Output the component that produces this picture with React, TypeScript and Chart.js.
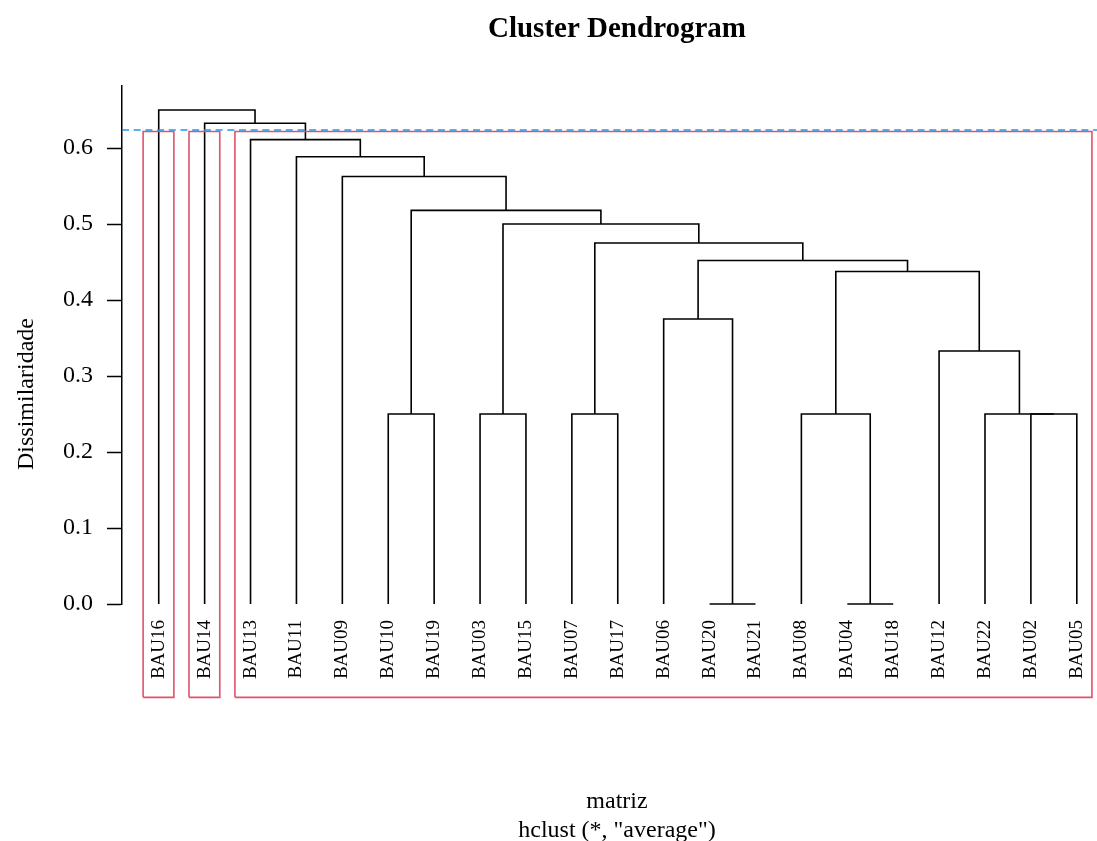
import React, { useEffect, useRef } from "react";
import { Chart, registerables } from "chart.js";

Chart.register(...registerables);

// Leaf order along the x axis
const leafLabels = [
  "BAU16", "BAU14", "BAU13", "BAU11", "BAU09", "BAU10", "BAU19", "BAU03", "BAU15", "BAU07",
  "BAU17", "BAU06", "BAU20", "BAU21", "BAU08", "BAU04", "BAU18", "BAU12", "BAU22", "BAU02", "BAU05",
];

// hclust-style merge table: negative = leaf (1-based position), positive = earlier merge step (1-based)
const mergeLeft = [-13, -16, -6, -8, -10, -15, -20, -19, -18, -12, 6, 10, 5, 4, 3, -5, -4, -3, -2, -1];
const mergeRight = [-14, -17, -7, -9, -11, 2, -21, 7, 8, 1, 9, 11, 12, 13, 14, 15, 16, 17, 18, 19];
const mergeHeights = [
  0, 0, 0.25, 0.25, 0.25, 0.25, 0.25, 0.25, 0.333, 0.375,
  0.4375, 0.452, 0.475, 0.5, 0.518, 0.5625, 0.5886, 0.611, 0.6325, 0.65,
];

// Clusters cut (k = 3): first and last leaf position of each group
const clusterFirst = [1, 2, 3];
const clusterLast = [1, 2, 21];
const rectTop = 0.6218;
const rectBottom = -0.1228;
const cutHeight = 0.6237;

const yTicks = [0, 0.1, 0.2, 0.3, 0.4, 0.5, 0.6];

const X_MIN = 0.2;
const X_MAX = 21.44;
const Y_MAX = 0.6816;

const SERIF = "'Liberation Serif', 'Times New Roman', serif";

function buildDatasets() {
  const pos: number[] = [];
  const hgt: number[] = [];
  const getX = (c: number) => (c < 0 ? -c : pos[c - 1]);
  const getH = (c: number) => (c < 0 ? 0 : hgt[c - 1]);
  const dendro: any[] = [];
  for (let i = 0; i < mergeLeft.length; i++) {
    const a = mergeLeft[i];
    const b = mergeRight[i];
    const h = mergeHeights[i];
    const xa = getX(a);
    const xb = getX(b);
    dendro.push({
      data: [
        { x: xa, y: getH(a) },
        { x: xa, y: h },
        { x: xb, y: h },
        { x: xb, y: getH(b) },
      ],
      borderColor: "#000000",
      borderWidth: 1.6,
      pointRadius: 0,
      fill: false,
      tension: 0,
      clip: false,
    });
    pos.push((xa + xb) / 2);
    hgt.push(h);
  }
  const rects: any[] = clusterFirst.map((f, i) => {
    const l = f - 0.34;
    const r = clusterLast[i] + 0.33;
    return {
      data: [
        { x: l, y: rectBottom },
        { x: l, y: rectTop },
        { x: r, y: rectTop },
        { x: r, y: rectBottom },
        { x: l, y: rectBottom },
      ],
      borderColor: "#DF536B",
      borderWidth: 1.6,
      pointRadius: 0,
      fill: false,
      tension: 0,
      clip: false,
    };
  });
  const cut = {
    data: [
      { x: X_MIN, y: cutHeight },
      { x: X_MAX, y: cutHeight },
    ],
    borderColor: "#2297E6",
    borderWidth: 1.6,
    borderDash: [7, 4.7],
    pointRadius: 0,
    fill: false,
    clip: false,
  };
  // dataset 0 is drawn on top
  return [cut, ...rects, ...dendro];
}

const textPlugin = {
  id: "rtexts",
  afterDraw(chart: any) {
    const ctx = chart.ctx;
    ctx.save();
    ctx.fillStyle = "#000";
    ctx.textAlign = "center";
    ctx.textBaseline = "alphabetic";
    ctx.font = `bold 29px ${SERIF}`;
    ctx.fillText("Cluster Dendrogram", 617, 37);
    ctx.font = `24px ${SERIF}`;
    ctx.fillText("matriz", 617, 808);
    ctx.fillText('hclust (*, "average")', 617, 837);
    ctx.translate(33, 394);
    ctx.rotate(-Math.PI / 2);
    ctx.fillText("Dissimilaridade", 0, 0);
    ctx.restore();
  },
};

export default function App() {
  const ref = useRef<HTMLCanvasElement | null>(null);
  useEffect(() => {
    if (!ref.current) return;
    const chart = new Chart(ref.current, {
      type: "line",
      data: { datasets: buildDatasets() as any },
      options: {
        animation: false,
        responsive: false,
        maintainAspectRatio: false,
        layout: { padding: { top: 86, left: 0, right: 0, bottom: 0 } },
        plugins: {
          legend: { display: false },
          tooltip: { enabled: false },
          title: { display: false },
        },
        elements: { point: { radius: 0 }, line: { tension: 0 } },
        scales: {
          x: {
            type: "linear",
            min: X_MIN,
            max: X_MAX,
            grid: { display: false },
            border: { display: false },
            afterBuildTicks: (s: any) => {
              s.ticks = leafLabels.map((_, i) => ({ value: i + 1 }));
            },
            afterFit: (s: any) => {
              s.height = 237;
              s.paddingLeft = 0;
              s.paddingRight = 0;
            },
            ticks: {
              autoSkip: false,
              minRotation: 90,
              maxRotation: 90,
              padding: 8,
              color: "#000",
              font: { family: SERIF, size: 19 },
              callback: (v: any) => leafLabels[Math.round(Number(v)) - 1] ?? "",
            },
          },
          y: {
            type: "linear",
            min: 0,
            max: Y_MAX,
            border: { display: true, color: "#000", width: 1.5 },
            grid: {
              drawOnChartArea: false,
              drawTicks: true,
              tickLength: 15,
              tickColor: "#000",
              tickWidth: 1.5,
              color: "#000",
            },
            afterBuildTicks: (s: any) => {
              s.ticks = yTicks.map((v) => ({ value: v }));
            },
            afterFit: (s: any) => {
              s.width = 122;
              s.paddingTop = 0;
              s.paddingBottom = 0;
            },
            ticks: {
              padding: 14,
              color: "#000",
              font: { family: SERIF, size: 24 },
              callback: (v: any) => Number(v).toFixed(1),
            },
          },
        },
      } as any,
      plugins: [textPlugin],
    });
    return () => chart.destroy();
  }, []);
  return (
    <div style={{ position: "absolute", left: 0, top: 0, width: 1097, height: 841, background: "#fff" }}>
      <canvas ref={ref} width={1097} height={841} style={{ display: "block" }} />
    </div>
  );
}
